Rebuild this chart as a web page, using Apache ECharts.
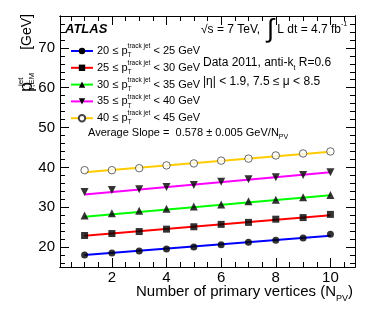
<!DOCTYPE html>
<html>
<head>
<meta charset="utf-8">
<script src="https://cdn.jsdelivr.net/npm/echarts@6/dist/echarts.min.js"></script>
<style>
html,body{margin:0;padding:0;background:#fff;}
#chart{width:374px;height:318px;}
</style>
</head>
<body>
<div id="chart"></div>
<script>
// ---------------- data ----------------
const npv = [1, 2, 3, 4, 5, 6, 7, 8, 9, 10];
const lowEdges = [20, 25, 30, 35, 40];
const highEdges = [25, 30, 35, 40, 45];
const pt20 = [18.0, 18.5, 19.0, 19.5, 20.0, 20.6, 21.2, 21.7, 22.3, 23.2];
const pt25 = [22.9, 23.4, 23.9, 24.5, 25.1, 25.7, 26.2, 27.0, 27.4, 28.2];
const pt30 = [27.9, 28.5, 29.1, 29.6, 30.2, 30.7, 31.5, 31.9, 32.5, 33.1];
const pt35 = [33.8, 34.3, 34.5, 35.1, 35.6, 36.4, 37.0, 37.5, 38.1, 38.8];
const pt40 = [39.3, 39.3, 39.8, 40.5, 41.0, 41.7, 42.2, 43.0, 43.5, 44.0];
const fitX = [1, 10];
const fitStart = [18.0, 22.85, 27.6, 33.2, 38.8];
const fitEnd = [22.85, 28.0, 33.0, 38.8, 43.9];
const xMajorTicks = [2, 4, 6, 8, 10];
const xMinorTicks = [0.5, 1, 1.5, 2.5, 3, 3.5, 4.5, 5, 5.5, 6.5, 7, 7.5, 8.5, 9, 9.5, 10.5];
const yMajorTicks = [20, 30, 40, 50, 60, 70];
const yMinorTicks = [16, 18, 22, 24, 26, 28, 32, 34, 36, 38, 42, 44, 46, 48, 52, 54, 56, 58, 62, 64, 66, 68, 72, 74, 76, 78];

// ---------------- style ----------------
const FONT = '"Liberation Sans", Arial, Helvetica, sans-serif';
const allSeries = [pt20, pt25, pt30, pt35, pt40];
const lineColors = ['#0000ff', '#ff0000', '#00ff00', '#ff00ff', '#ffcc00'];
const symbols = ['circle', 'rect', 'triangle', 'path://M0,0 L10,0 L5,9 Z', 'circle'];
const symbolSizes = [7, 7, 8, 8, 7.5];
const names = lowEdges.map((lo, i) => 'bin' + i);

const chart = echarts.init(document.getElementById('chart'), null, {renderer: 'canvas'});

function makeX(pos, ticks, len, label) {
  return {
    type: 'value', position: pos, min: 0.1, max: 10.9,
    axisLine: {show: true, onZero: false, lineStyle: {color: '#000', width: 1}},
    axisTick: {show: true, inside: true, length: len, customValues: ticks, lineStyle: {color: '#000', width: 1}},
    axisLabel: {show: label, customValues: ticks, color: '#000', fontFamily: FONT, fontSize: 15, margin: 3},
    splitLine: {show: false}
  };
}
function makeY(pos, ticks, len, label) {
  return {
    type: 'value', position: pos, min: 15, max: 78,
    axisLine: {show: true, onZero: false, lineStyle: {color: '#000', width: 1}},
    axisTick: {show: true, inside: true, length: len, customValues: ticks, lineStyle: {color: '#000', width: 1}},
    axisLabel: {show: label, customValues: ticks, color: '#000', fontFamily: FONT, fontSize: 15, margin: 5},
    splitLine: {show: false}
  };
}

const openStyle = {color: '#fff', borderColor: '#444', borderWidth: 1};
const series = [];
allSeries.forEach((vals, i) => {
  // fit line (named, used by legend)
  series.push({
    name: names[i], type: 'line', xAxisIndex: 0, yAxisIndex: 0,
    data: [[fitX[0], fitStart[i]], [fitX[1], fitEnd[i]]],
    symbol: symbols[i], symbolSize: symbolSizes[i], showSymbol: false,
    lineStyle: {color: lineColors[i], width: 2, type: 'solid'},
    itemStyle: i === 4 ? openStyle : {color: '#000'},
    z: 2, silent: true, animation: false
  });
  // data points
  series.push({
    name: 'pts' + i, type: 'scatter', xAxisIndex: 0, yAxisIndex: 0,
    data: npv.map((x, j) => [x, vals[j]]),
    symbol: symbols[i], symbolSize: symbolSizes[i],
    itemStyle: i === 4 ? openStyle : {color: '#000'},
    z: 3, silent: true, animation: false
  });
});

const rich = {
  n: {fontFamily: FONT, fontSize: 11, color: '#000', lineHeight: 16},
  sup: {fontFamily: FONT, fontSize: 6.5, color: '#000', verticalAlign: 'top', lineHeight: 8},
  sub: {fontFamily: FONT, fontSize: 6.5, color: '#000', verticalAlign: 'bottom', lineHeight: 7, width: 0.1, align: 'left'}
};

const option = {
  backgroundColor: '#fff',
  animation: false,
  grid: {left: 60, right: 19, top: 16, bottom: 51, containLabel: false},
  xAxis: [
    makeX('bottom', xMajorTicks, 9, true),
    makeX('bottom', xMinorTicks, 5, false),
    makeX('top', xMajorTicks, 9, false),
    makeX('top', xMinorTicks, 5, false)
  ],
  yAxis: [
    makeY('left', yMajorTicks, 9, true),
    makeY('left', yMinorTicks, 5, false),
    makeY('right', yMajorTicks, 9, false),
    makeY('right', yMinorTicks, 5, false)
  ],
  legend: {
    show: true, orient: 'vertical', left: 65, top: 38,
    itemWidth: 22, itemHeight: 8, itemGap: 0.8,
    data: names,
    formatter: function (name) {
      const i = names.indexOf(name);
      return '{n|' + lowEdges[i] + ' ≤ p}{sub|T}{sup|track jet}{n| < ' + highEdges[i] + ' GeV}';
    },
    textStyle: {rich: rich, padding: [0, 0, 0, -1]},
    selectedMode: false
  },
  graphic: [
    {type: 'text', x: 65, y: 29, style: {text: 'ATLAS', font: 'italic bold 13px ' + FONT, fill: '#000', verticalAlign: 'middle'}},
    {type: 'text', x: 201, y: 30, style: {
      text: '{n|√s = 7 TeV,  }{int|∫}{n| L dt = 4.7 fb}{sup|-1}', verticalAlign: 'middle',
      rich: {
        n: {fontFamily: FONT, fontSize: 12, fill: '#000', lineHeight: 30, verticalAlign: 'middle'},
        int: {fontFamily: FONT, fontSize: 26, fill: '#000', lineHeight: 30, verticalAlign: 'middle'},
        sup: {fontFamily: FONT, fontSize: 7, fill: '#000', lineHeight: 30, verticalAlign: 'top', padding: [6, 0, 0, 0]}
      }}},
    {type: 'text', x: 203, y: 63, style: {
      text: '{n|Data 2011, anti-k}{sub|t}{n| R=0.6}', verticalAlign: 'middle',
      rich: {
        n: {fontFamily: FONT, fontSize: 12, fill: '#000', lineHeight: 18},
        sub: {fontFamily: FONT, fontSize: 7, fill: '#000', lineHeight: 7, verticalAlign: 'bottom'}
      }}},
    {type: 'text', x: 203, y: 82, style: {text: '|η| < 1.9, 7.5 ≤ μ < 8.5', font: '12px ' + FONT, fill: '#000', verticalAlign: 'middle'}},
    {type: 'text', x: 88, y: 133, style: {
      text: '{n|Average Slope =  0.578 ± 0.005 GeV/N}{sub|PV}', verticalAlign: 'middle',
      rich: {
        n: {fontFamily: FONT, fontSize: 11, fill: '#000', lineHeight: 16},
        sub: {fontFamily: FONT, fontSize: 7, fill: '#000', lineHeight: 7, verticalAlign: 'bottom'}
      }}},
    {type: 'text', x: 353, y: 292, style: {
      text: '{n|Number of primary vertices (N}{sub|PV}{n|)}', align: 'right', verticalAlign: 'middle',
      rich: {
        n: {fontFamily: FONT, fontSize: 15, fill: '#000', lineHeight: 22},
        sub: {fontFamily: FONT, fontSize: 9, fill: '#000', lineHeight: 9, verticalAlign: 'bottom'}
      }}},
    {type: 'text', x: 27, y: 14, rotation: Math.PI / 2, style: {
      text: '{p|p}{sub|T,EM}{sup|jet}{gap| }{g|[GeV]}', align: 'right', verticalAlign: 'middle',
      rich: {
        p: {fontFamily: FONT, fontSize: 18, fill: '#000', lineHeight: 24},
        g: {fontFamily: FONT, fontSize: 14, fill: '#000', lineHeight: 24},
        gap: {fontFamily: FONT, fontSize: 14, fill: '#000', lineHeight: 24, width: 32},
        sup: {fontFamily: FONT, fontSize: 8, fill: '#000', lineHeight: 10, verticalAlign: 'top', width: 0.1, align: 'left', padding: [2, 0, 0, 0]},
        sub: {fontFamily: FONT, fontSize: 8, fill: '#000', lineHeight: 8, verticalAlign: 'bottom', width: 0.1, align: 'left', padding: [0, 0, 3, 0]}
      }}}
  ],
  series: series
};
chart.setOption(option);
</script>
</body>
</html>
